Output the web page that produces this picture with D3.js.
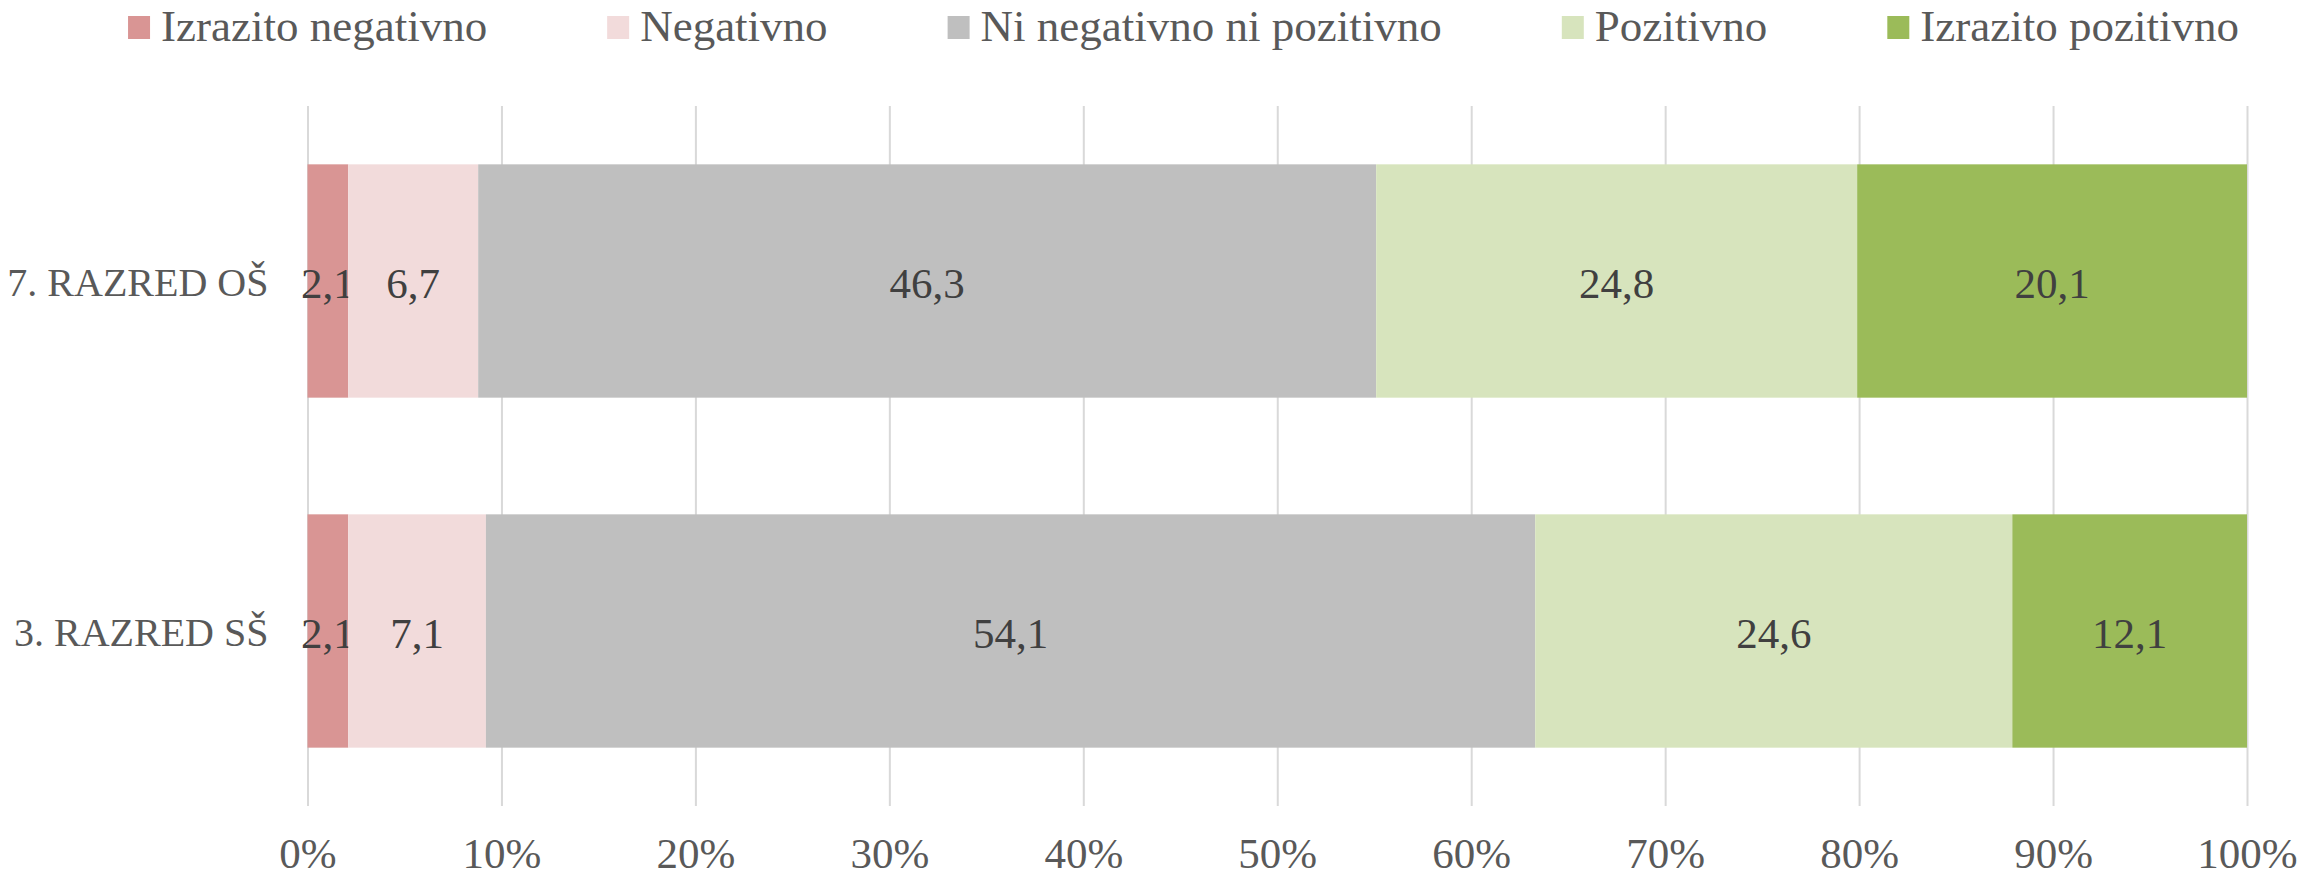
<!DOCTYPE html>
<html>
<head>
<meta charset="utf-8">
<script src="https://cdn.jsdelivr.net/npm/d3@7"></script>
<style>
  html, body { margin: 0; padding: 0; background: #fff; }
  svg { display: block; }
  text { font-family: "Liberation Serif", "DejaVu Serif", serif; }
</style>
</head>
<body>
<svg id="chart" width="2307" height="880"></svg>
<script>
// ---- data ----
const categories = ["7. RAZRED OŠ", "3. RAZRED SŠ"];
const seriesNames = ["Izrazito negativno", "Negativno", "Ni negativno ni pozitivno", "Pozitivno", "Izrazito pozitivno"];
const izrazitoNegativno = [2.1, 2.1];
const negativno = [6.7, 7.1];
const niNegativnoNiPozitivno = [46.3, 54.1];
const pozitivno = [24.8, 24.6];
const izrazitoPozitivno = [20.1, 12.1];
const seriesColors = ["#D99594", "#F2DBDB", "#BFBFBF", "#D7E4BD", "#9BBB59"];
const tickValues = [0, 0.1, 0.2, 0.3, 0.4, 0.5, 0.6, 0.7, 0.8, 0.9, 1.0];

const seriesValues = [izrazitoNegativno, negativno, niNegativnoNiPozitivno, pozitivno, izrazitoPozitivno];

// ---- layout ----
const W = 2307, H = 880;
const plot = { left: 307.5, right: 2247, top: 106, bottom: 806 };
const svg = d3.select("#chart");

const x = d3.scaleLinear().domain([0, 1]).range([plot.left, plot.right]);
const y = d3.scaleBand().domain(categories).range([plot.top, plot.bottom])
  .paddingInner(1/3).paddingOuter(1/6);

// build stacked data as proportions
const rows = categories.map((c, i) => {
  const r = { cat: c };
  const total = d3.sum(seriesValues, s => s[i]);
  seriesNames.forEach((n, j) => { r[n] = seriesValues[j][i] / total; r[n + "_raw"] = seriesValues[j][i]; });
  return r;
});
const stack = d3.stack().keys(seriesNames);
const stacked = stack(rows);

// gridlines
const grid = svg.append("g")
  .attr("transform", `translate(0,${plot.bottom})`)
  .call(d3.axisBottom(x).tickValues(tickValues).tickSize(-(plot.bottom - plot.top)).tickFormat(""));
grid.select(".domain").remove();
grid.selectAll(".tick line").attr("stroke", "#D9D9D9").attr("stroke-width", 2);

// tick labels
const xAxis = svg.append("g")
  .attr("transform", `translate(0,${plot.bottom})`)
  .call(d3.axisBottom(x).tickValues(tickValues).tickSize(0).tickPadding(0).tickFormat(d3.format(".0%")));
xAxis.select(".domain").remove();
xAxis.selectAll(".tick text")
  .attr("y", 62).attr("dy", null)
  .attr("font-size", 43).attr("fill", "#595959")
  .attr("font-family", '"Liberation Serif", serif');

// bars
const layers = svg.append("g").selectAll("g").data(stacked).join("g")
  .attr("fill", (d, i) => seriesColors[i]);
layers.selectAll("rect").data(d => d.map(p => ({ p, key: d.key }))).join("rect")
  .attr("x", d => x(d.p[0]))
  .attr("width", d => x(d.p[1]) - x(d.p[0]))
  .attr("y", d => y(d.p.data.cat))
  .attr("height", y.bandwidth());

// data labels
const labelFmt = v => d3.format(".1f")(v).replace(".", ",");
layers.selectAll("text").data(d => d.map(p => ({ p, key: d.key }))).join("text")
  .attr("x", d => (x(d.p[0]) + x(d.p[1])) / 2)
  .attr("y", d => y(d.p.data.cat) + y.bandwidth() / 2 + 17)
  .attr("text-anchor", "middle")
  .attr("font-size", 43)
  .attr("fill", "#404040")
  .text(d => labelFmt(d.p.data[d.key + "_raw"]));

// category labels
const yAxis = svg.append("g")
  .attr("transform", `translate(${plot.left - 39},0)`)
  .call(d3.axisLeft(y).tickSize(0).tickPadding(0));
yAxis.select(".domain").remove();
yAxis.selectAll(".tick text")
  .attr("dy", null).attr("y", 15)
  .attr("font-size", 40).attr("fill", "#595959")
  .attr("font-family", '"Liberation Serif", serif');

// legend
const legend = svg.append("g");
const items = legend.selectAll("g").data(seriesNames).join("g");
items.append("rect").attr("width", 22).attr("height", 23).attr("y", 16)
  .attr("fill", (d, i) => seriesColors[i]);
items.append("text").attr("x", 33).attr("y", 41)
  .attr("font-size", 45).attr("fill", "#595959")
  .text(d => d);
const gap = 120;
let widths = [];
items.each(function () { widths.push(this.querySelector("text").getComputedTextLength() + 33); });
const total = d3.sum(widths) + gap * (widths.length - 1);
let cx = 1183.5 - total / 2;
items.attr("transform", (d, i) => {
  const t = `translate(${cx},0)`;
  cx += widths[i] + gap;
  return t;
});
</script>
</body>
</html>
